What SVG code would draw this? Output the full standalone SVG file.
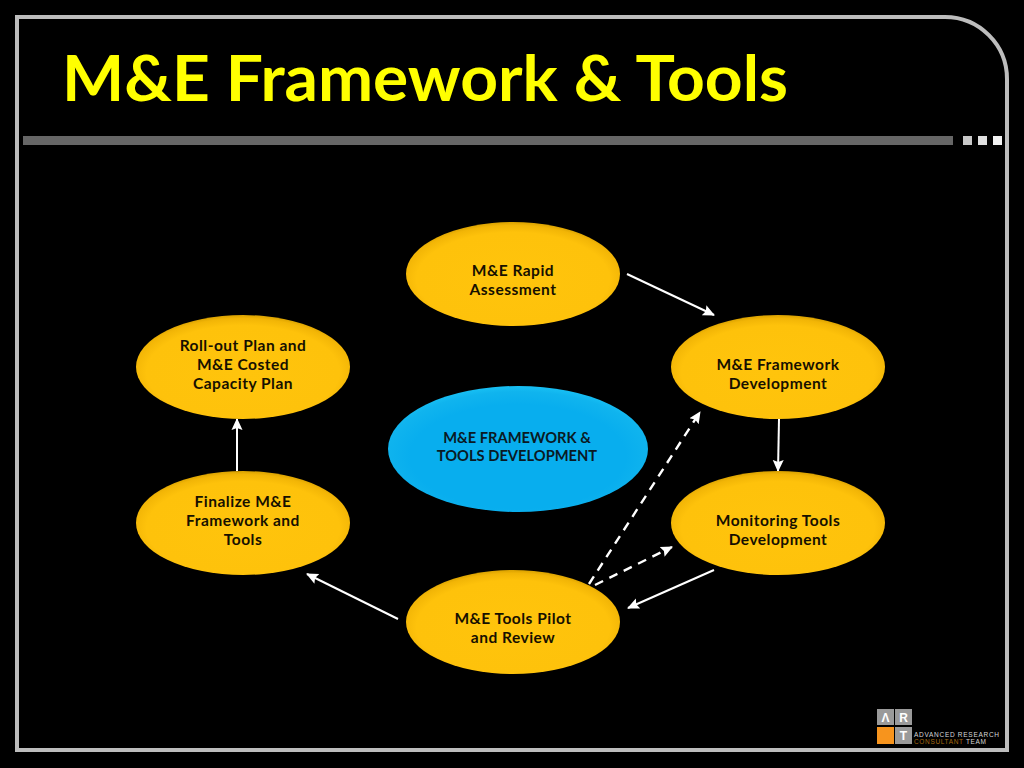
<svg xmlns="http://www.w3.org/2000/svg" width="1024" height="768" viewBox="0 0 1024 768">
<defs>
<radialGradient id="gold" cx="0.5" cy="0.55" r="0.55">
<stop offset="0" stop-color="#ffc40c"/><stop offset="0.82" stop-color="#fec20b"/><stop offset="0.94" stop-color="#f2b506"/><stop offset="1" stop-color="#d9a100"/>
</radialGradient>
<radialGradient id="blue" cx="0.5" cy="0.56" r="0.56">
<stop offset="0" stop-color="#08aeee"/><stop offset="0.74" stop-color="#08aeee"/><stop offset="0.92" stop-color="#10b4ee"/><stop offset="1" stop-color="#18c0f4"/>
</radialGradient>
<marker id="ah" viewBox="0 0 12 12" refX="11" refY="6" markerWidth="12" markerHeight="12" markerUnits="userSpaceOnUse" orient="auto"><path d="M0 0.500L12 6L0 11.500L2 6Z" fill="#fff"/></marker>
</defs>
<style>
.t{font-family:"Lato","Liberation Sans",sans-serif;font-weight:700;font-size:15.5px;letter-spacing:.5px;fill:#161000;text-anchor:middle}
.u{font-size:14.7px;letter-spacing:0;fill:#0a1a24}
.c{stroke:#fff;stroke-width:2;fill:none;marker-end:url(#ah)}
.d{stroke-width:2.4;stroke-dasharray:9 7}
.g{fill:url(#gold)}
.s{fill:#9a9a9a}
.l{font-family:"Liberation Sans",sans-serif;font-size:12px;font-weight:700;fill:#fff;text-anchor:middle}
.m{font-family:"Liberation Sans",sans-serif;font-size:6.5px;fill:#d8d8d8}
</style>
<rect width="1024" height="768" fill="#000"/>
<g id="frame">
<path d="M17 17H945A62 62 0 0 1 1007 79V750H17Z" fill="none" stroke="#bdbdbd" stroke-width="4"/>
<rect x="23" y="136" width="930" height="9" fill="#666"/>
<rect x="963" y="136" width="9" height="9" fill="#c8c8c8"/>
<rect x="978" y="136" width="9" height="9" fill="#e0e0e0"/>
<rect x="993" y="136" width="9" height="9" fill="#f2f2f2"/>
</g>
<text id="title" x="62" y="101" font-family="Lato,'Liberation Sans',sans-serif" font-weight="700" font-size="64" fill="#ffff00" textLength="726" lengthAdjust="spacingAndGlyphs">M&amp;E Framework &amp; Tools</text>
<g id="connectors">
<path class="c" d="M627 274L714 315"/>
<path class="c" d="M779 419L778 471"/>
<path class="c" d="M714 570L628 608"/>
<path class="c" d="M398 619L307 574"/>
<path class="c" d="M237 471V419"/>
<path class="c d" d="M589 584L700 412"/>
<path class="c d" d="M595 585L672 547"/>
</g>
<g id="n1"><ellipse class="g" cx="513" cy="274" rx="107" ry="52"/><text class="t" x="513" y="276">M&amp;E Rapid</text><text class="t" x="513" y="295">Assessment</text></g>
<g id="n2"><ellipse class="g" cx="778" cy="367" rx="107" ry="52"/><text class="t" x="778" y="370">M&amp;E Framework</text><text class="t" x="778" y="389">Development</text></g>
<g id="n3"><ellipse class="g" cx="778" cy="523" rx="107" ry="52"/><text class="t" x="778" y="526">Monitoring Tools</text><text class="t" x="778" y="545">Development</text></g>
<g id="n4"><ellipse class="g" cx="513" cy="622" rx="107" ry="52"/><text class="t" x="513" y="624">M&amp;E Tools Pilot</text><text class="t" x="513" y="643">and Review</text></g>
<g id="n5"><ellipse class="g" cx="243" cy="523" rx="107" ry="52"/><text class="t" x="243" y="507">Finalize M&amp;E</text><text class="t" x="243" y="526">Framework and</text><text class="t" x="243" y="545">Tools</text></g>
<g id="n6"><ellipse class="g" cx="243" cy="367" rx="107" ry="52"/><text class="t" x="243" y="351">Roll-out Plan and</text><text class="t" x="243" y="370">M&amp;E Costed</text><text class="t" x="243" y="389">Capacity Plan</text></g>
<g id="center"><ellipse cx="518" cy="449" rx="130" ry="63" fill="url(#blue)"/><text class="t u" x="517" y="443">M&amp;E FRAMEWORK &amp;</text><text class="t u" x="517" y="461">TOOLS DEVELOPMENT</text></g>
<g id="logo">
<rect class="s" x="877" y="709" width="17" height="16"/><rect class="s" x="895" y="709" width="17" height="16"/>
<rect x="877" y="727" width="17" height="17" fill="#f7941d"/><rect class="s" x="895" y="727" width="17" height="17"/>
<text class="l" x="885.500" y="722">Λ</text>
<text class="l" x="903.500" y="722">R</text>
<text class="l" x="903.500" y="740">T</text>
<text class="m" x="914" y="737" textLength="85">ADVANCED RESEARCH</text>
<text class="m" x="914" y="744" style="fill:#a86a10" textLength="72">CONSULTANT <tspan style="fill:#d8d8d8">TEAM</tspan></text>
</g>
</svg>
